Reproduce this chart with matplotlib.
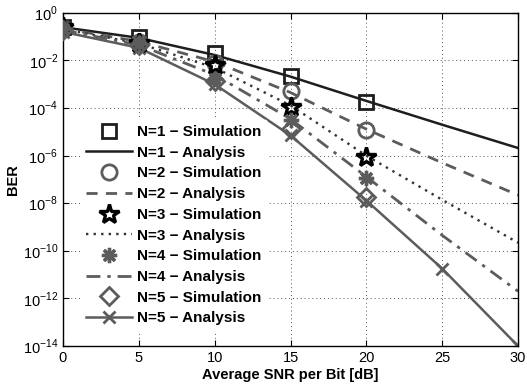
import matplotlib
matplotlib.use("Agg")
import matplotlib.pyplot as plt
from matplotlib.ticker import FixedLocator, FixedFormatter, NullLocator

plt.rcParams['font.family'] = ['Liberation Sans', 'DejaVu Sans']
plt.rcParams['mathtext.fontset'] = 'custom'
plt.rcParams['mathtext.rm'] = 'Liberation Sans'

snr_sim = [0, 5, 10, 15, 20]
snr_ana = [0, 5, 10, 15, 20, 25, 30]

n1_sim = [2.5e-1, 1.0e-1, 2.1e-2, 2.2e-3, 1.8e-4]
n2_sim = [2.4e-1, 6.0e-2, 7.9e-3, 5.0e-4, 1.2e-5]
n3_sim = [2.5e-1, 5.6e-2, 6.3e-3, 1.1e-4, 8.9e-7]
n4_sim = [2.2e-1, 5.0e-2, 1.7e-3, 3.2e-5, 1.2e-7]
n5_sim = [2.0e-1, 4.5e-2, 1.4e-3, 1.3e-5, 1.9e-8]

n1_ana = [2.5e-1, 8.9e-2, 1.7e-2, 2.1e-3, 2.0e-4, 2.0e-5, 2.1e-6]
n2_ana = [2.2e-1, 6.3e-2, 8.9e-3, 4.5e-4, 1.3e-5, 5.0e-7, 2.2e-8]
n3_ana = [2.1e-1, 5.2e-2, 5.0e-3, 1.3e-4, 1.0e-6, 1.4e-8, 2.2e-10]
n4_ana = [1.9e-1, 4.5e-2, 2.5e-3, 3.5e-5, 1.3e-7, 4.5e-10, 2.0e-12]
n5_ana = [1.6e-1, 3.4e-2, 1.0e-3, 7.1e-6, 1.3e-8, 1.8e-11, 1.0e-14]

labels = ["N=1 \u2212 Simulation", "N=1 \u2212 Analysis",
          "N=2 \u2212 Simulation", "N=2 \u2212 Analysis",
          "N=3 \u2212 Simulation", "N=3 \u2212 Analysis",
          "N=4 \u2212 Simulation", "N=4 \u2212 Analysis",
          "N=5 \u2212 Simulation", "N=5 \u2212 Analysis"]

xticks = [0, 5, 10, 15, 20, 25, 30]
yexps = [0, -2, -4, -6, -8, -10, -12, -14]

black = '#1e1e1e'
grey = '#5c5c5c'

fig = plt.figure(figsize=(5.27, 3.91), dpi=100)
ax = fig.add_axes([0.1195, 0.115, 0.8635, 0.852])

ax.semilogy(snr_sim, n1_sim, linestyle='none', marker='s', ms=10, mfc='none',
            mec=black, mew=2.0, label=labels[0], zorder=4)
ax.semilogy(snr_ana, n1_ana, linestyle='-', color=black, lw=1.8, label=labels[1])
ax.semilogy(snr_sim, n2_sim, linestyle='none', marker='o', ms=11, mfc='none',
            mec=grey, mew=2.0, label=labels[2], zorder=4)
ax.semilogy(snr_ana, n2_ana, linestyle=(0, (4, 3)), color=grey, lw=2.0, label=labels[3])
ax.semilogy(snr_sim, n3_sim, linestyle='none', marker='*', ms=15, mfc='none',
            mec='black', mew=2.4, label=labels[4], zorder=4)
ax.semilogy(snr_ana, n3_ana, linestyle=(0, (1, 2.2)), color='#333333', lw=1.7, label=labels[5])
ax.semilogy(snr_sim, n4_sim, linestyle='none', marker=(8, 2, 0), ms=11,
            mec=grey, mew=2.4, label=labels[6], zorder=4)
ax.semilogy(snr_ana, n4_ana, linestyle=(0, (5, 2.5, 1.2, 2.5)), color=grey, lw=2.0, label=labels[7])
ax.semilogy(snr_sim, n5_sim, linestyle='none', marker='D', ms=9, mfc='none',
            mec=grey, mew=2.0, label=labels[8], zorder=4)
ax.semilogy(snr_ana, n5_ana, linestyle='-', color=grey, lw=1.8, marker='x', ms=9,
            mew=2.0, label=labels[9])

ax.set_xlim(0, 30)
ax.set_ylim(1e-14, 1)
ax.xaxis.set_major_locator(FixedLocator(xticks))
ax.yaxis.set_major_locator(FixedLocator([10.0 ** e for e in yexps]))
ax.yaxis.set_major_formatter(FixedFormatter([r'$10^{%d}$' % e for e in yexps]))
ax.yaxis.set_minor_locator(NullLocator())
ax.tick_params(direction='in', top=True, right=True, labelsize=10.5, length=4,
               width=0.8, colors='black')
ax.grid(True, linestyle=(0, (1, 3)), color='#555555', lw=0.7)
for s in ax.spines.values():
    s.set_linewidth(1.0)
    s.set_color('black')

ax.set_xlabel('Average SNR per Bit [dB]', fontsize=10.5, fontweight='bold', labelpad=2.5)
ax.set_ylabel('BER', fontsize=10.5, fontweight='bold', labelpad=2)

leg = ax.legend(loc='lower left', bbox_to_anchor=(0.024, 0.025), frameon=True,
                fancybox=False, edgecolor='white', framealpha=1.0,
                prop={'family': 'Liberation Sans', 'weight': 'bold', 'size': 11},
                handlelength=3.0, handletextpad=0.35, labelspacing=0.44,
                borderpad=0.3)

fig.savefig('out.png', dpi=100)
